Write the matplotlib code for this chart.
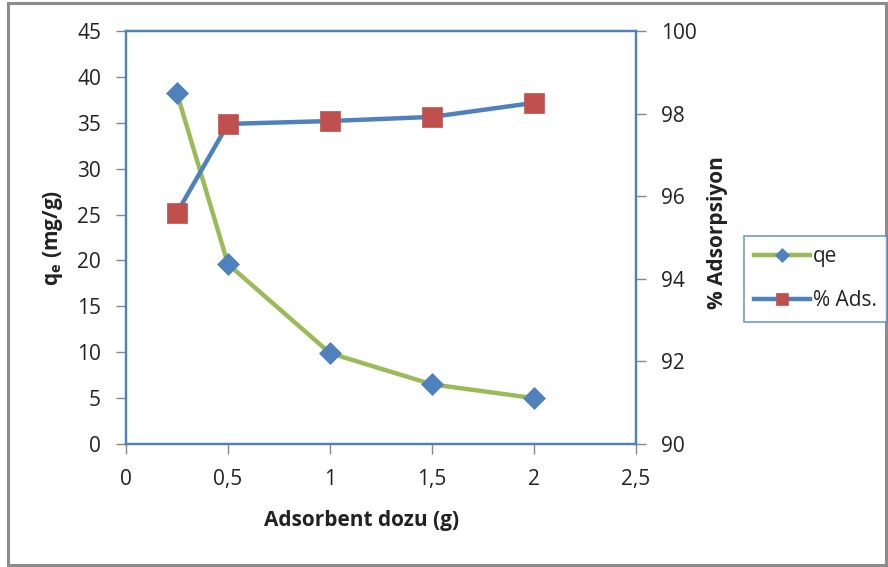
import matplotlib
matplotlib.use("Agg")
import matplotlib.pyplot as plt
from matplotlib.patches import Rectangle
from matplotlib.ticker import FuncFormatter

plt.rcParams['font.family'] = ['Open Sans', 'DejaVu Sans']
plt.rcParams['mathtext.fontset'] = 'custom'
plt.rcParams['mathtext.bf'] = 'Open Sans:bold'
plt.rcParams['mathtext.rm'] = 'Open Sans:bold'
plt.rcParams['mathtext.default'] = 'bf'

# adsorbent dose (g) vs capacity and removal
doz = [0.25, 0.5, 1.0, 1.5, 2.0]
qe = [38.2, 19.6, 9.9, 6.5, 5.0]
ads = [95.6, 97.75, 97.82, 97.92, 98.26]

x_ticks = [0, 0.5, 1, 1.5, 2, 2.5]
qe_ticks = [0, 5, 10, 15, 20, 25, 30, 35, 40, 45]
ads_ticks = [90, 92, 94, 96, 98, 100]

GREEN = '#9BBB59'
BLUE = '#4F81BD'
RED = '#C0504D'
GRAY = '#868686'
TXT = '#222222'

fig = plt.figure(figsize=(8.88, 5.67), dpi=100)
ax = fig.add_axes([126/888, 1 - 444/567, 510/888, 413/567])
ax2 = ax.twinx()

l1, = ax.plot(doz, qe, color=GREEN, lw=3.2, marker='D', ms=11,
              mfc=BLUE, mec=BLUE, mew=0.5, label='qe')
l2, = ax2.plot(doz, ads, color=BLUE, lw=3.2, marker='s', ms=14,
               mfc=RED, mec=RED, mew=0.5, label='% Ads.')

ax.set_xlim(0, 2.5)
ax.set_ylim(0, 45)
ax2.set_ylim(90, 100)
ax.set_xticks(x_ticks)
ax.set_yticks(qe_ticks)
ax2.set_yticks(ads_ticks)

comma = FuncFormatter(lambda v, p: f'{v:g}'.replace('.', ','))
ax.xaxis.set_major_formatter(comma)

for a in (ax, ax2):
    for s in a.spines.values():
        s.set_color(BLUE)
        s.set_linewidth(1.6)
    a.tick_params(colors=GRAY, labelcolor=TXT, labelsize=15, length=7,
                  width=1, pad=11)

ax.set_xlabel('Adsorbent dozu (g)', fontsize=15, fontweight='bold',
              color=TXT)
ax.xaxis.set_label_coords(0.462, -0.16)
ax.set_ylabel('q$_e$ (mg/g)', fontsize=15, fontweight='bold', color=TXT)
ax.yaxis.set_label_coords(-0.12, 0.5)
ax2.set_ylabel('% Adsorpsiyon', fontsize=15, fontweight='bold', color=TXT)
ax2.yaxis.set_label_coords(1.14, 0.511)

leg = fig.legend(handles=[l1, l2], loc='upper left',
                 bbox_to_anchor=(744/888, 1 - 236/567), borderaxespad=0,
                 frameon=True, fancybox=False, fontsize=15,
                 handlelength=2.65, handletextpad=0.15, labelspacing=1.1,
                 borderpad=0.5, labelcolor=TXT, numpoints=1,
                 markerscale=0.65)
leg.get_frame().set_edgecolor(BLUE)
leg.get_frame().set_linewidth(1.2)

fig.patches.append(Rectangle((8/888, 2/567), 878/888, 562/567,
                             transform=fig.transFigure, fill=False,
                             edgecolor='#8C8C8C', lw=2.2))

fig.savefig('out.png', dpi=100)
